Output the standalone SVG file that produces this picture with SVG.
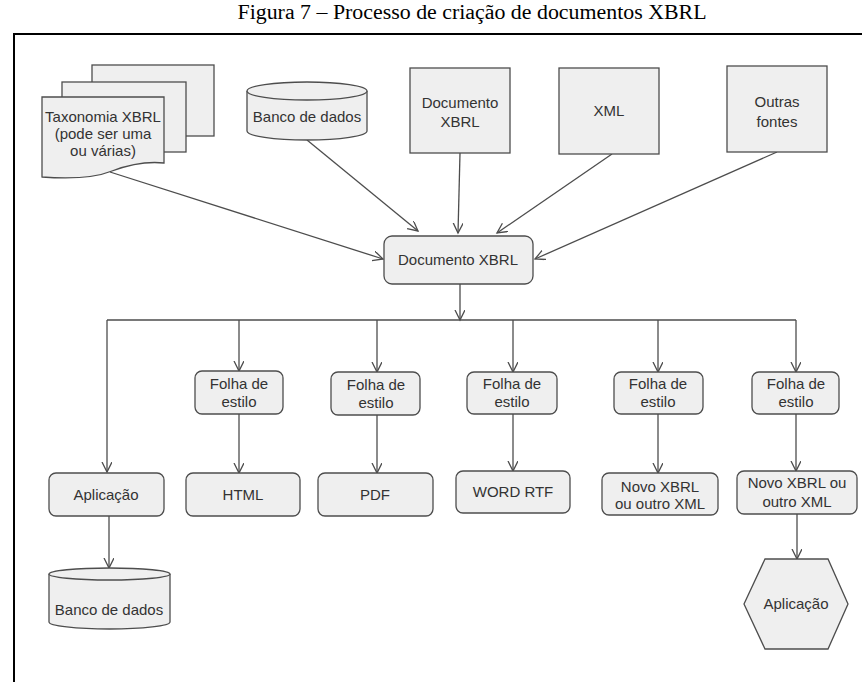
<svg xmlns="http://www.w3.org/2000/svg" width="862" height="682" viewBox="0 0 862 682">
<defs>
<style>
.shape{fill:#efefef;stroke:#4d4d4d;stroke-width:1.3}
.t{font-family:"Liberation Sans",Arial,sans-serif;font-size:15px;fill:#333;text-anchor:middle}
.c{fill:none;stroke:#4d4d4d;stroke-width:1.3}
.a{marker-end:url(#arr)}
</style>
<marker id="arr" markerUnits="userSpaceOnUse" markerWidth="12" markerHeight="12" refX="10" refY="5" orient="auto">
<path d="M0,0 L10,5 L0,10" fill="none" stroke="#4d4d4d" stroke-width="1.3"/>
</marker>
</defs>
<rect width="862" height="682" fill="#fff"/>
<text x="472" y="19" font-family="'Liberation Serif','Times New Roman',serif" font-size="20" fill="#000" text-anchor="middle" textLength="469" lengthAdjust="spacingAndGlyphs">Figura 7 – Processo de criação de documentos XBRL</text>
<path d="M14,682 V34 H862" fill="none" stroke="#000" stroke-width="2"/>

<g id="connectors">
<line class="c a" x1="110" y1="172" x2="383" y2="259"/>
<line class="c a" x1="307" y1="140" x2="418" y2="231"/>
<line class="c a" x1="460" y1="153" x2="458" y2="233"/>
<line class="c a" x1="612" y1="154" x2="497" y2="233"/>
<line class="c a" x1="777" y1="152" x2="535" y2="259"/>
<line class="c a" x1="460" y1="284" x2="460" y2="320"/>
<line class="c" x1="107" y1="320" x2="796" y2="320"/>
<line class="c a" x1="107" y1="320" x2="107" y2="472"/>
<line class="c a" x1="239" y1="320" x2="239" y2="371"/>
<line class="c a" x1="377" y1="320" x2="377" y2="372"/>
<line class="c a" x1="513" y1="320" x2="513" y2="372"/>
<line class="c a" x1="658" y1="320" x2="658" y2="372"/>
<line class="c a" x1="796" y1="320" x2="796" y2="372"/>
<line class="c a" x1="239" y1="414" x2="239" y2="473"/>
<line class="c a" x1="377" y1="415" x2="377" y2="473"/>
<line class="c a" x1="513" y1="414" x2="513" y2="471"/>
<line class="c a" x1="658" y1="414" x2="658" y2="473"/>
<line class="c a" x1="796" y1="414" x2="796" y2="471"/>
<line class="c a" x1="109" y1="516" x2="109" y2="568"/>
<line class="c a" x1="797" y1="514" x2="797" y2="559"/>
</g>

<g id="taxonomia">
<rect class="shape" x="92" y="65" width="122" height="71"/>
<rect class="shape" x="62" y="82" width="124" height="70"/>
<path class="shape" d="M42,97 H164 V163 C145,161 128,165 112,171 C92,179 68,179 42,177 Z"/>
<text class="t" x="103" y="122">Taxonomia XBRL</text>
<text class="t" x="103" y="139">(pode ser uma</text>
<text class="t" x="103" y="156">ou várias)</text>
</g>

<g id="banco1">
<path class="shape" d="M247,91 V131 A60,9 0 0 0 367,131 V91"/>
<ellipse class="shape" cx="307" cy="91" rx="60" ry="9"/>
<text class="t" x="307" y="122">Banco de dados</text>
</g>

<g id="docxbrl-top">
<rect class="shape" x="410" y="68" width="100" height="85"/>
<text class="t" x="460" y="108">Documento</text>
<text class="t" x="460" y="127">XBRL</text>
</g>

<g id="xml">
<rect class="shape" x="559" y="68" width="100" height="86"/>
<text class="t" x="609" y="116">XML</text>
</g>

<g id="outras">
<rect class="shape" x="727" y="66" width="100" height="86"/>
<text class="t" x="777" y="107">Outras</text>
<text class="t" x="777" y="127">fontes</text>
</g>

<g id="docxbrl-main">
<rect class="shape" x="384" y="236" width="149" height="48" rx="8"/>
<text class="t" x="458" y="265">Documento XBRL</text>
</g>

<g id="folha1">
<rect class="shape" x="195" y="371" width="88" height="43" rx="7"/>
<text class="t" x="239" y="389">Folha de</text>
<text class="t" x="239" y="407">estilo</text>
</g>
<g id="folha2">
<rect class="shape" x="331" y="372" width="89" height="43" rx="7"/>
<text class="t" x="376" y="390">Folha de</text>
<text class="t" x="376" y="408">estilo</text>
</g>
<g id="folha3">
<rect class="shape" x="467" y="372" width="90" height="42" rx="7"/>
<text class="t" x="512" y="389">Folha de</text>
<text class="t" x="512" y="407">estilo</text>
</g>
<g id="folha4">
<rect class="shape" x="614" y="372" width="89" height="42" rx="7"/>
<text class="t" x="658" y="389">Folha de</text>
<text class="t" x="658" y="407">estilo</text>
</g>
<g id="folha5">
<rect class="shape" x="752" y="372" width="87" height="42" rx="7"/>
<text class="t" x="796" y="389">Folha de</text>
<text class="t" x="796" y="407">estilo</text>
</g>

<g id="aplicacao1">
<rect class="shape" x="49" y="473" width="115" height="43" rx="7"/>
<text class="t" x="106" y="500">Aplicação</text>
</g>
<g id="html">
<rect class="shape" x="186" y="473" width="114" height="43" rx="7"/>
<text class="t" x="243" y="500">HTML</text>
</g>
<g id="pdf">
<rect class="shape" x="318" y="473" width="115" height="43" rx="7"/>
<text class="t" x="375" y="500">PDF</text>
</g>
<g id="word">
<rect class="shape" x="456" y="471" width="114" height="42" rx="7"/>
<text class="t" x="513" y="497">WORD RTF</text>
</g>
<g id="novo1">
<rect class="shape" x="602" y="473" width="116" height="42" rx="7"/>
<text class="t" x="660" y="492">Novo XBRL</text>
<text class="t" x="660" y="509">ou outro XML</text>
</g>
<g id="novo2">
<rect class="shape" x="737" y="471" width="120" height="43" rx="7"/>
<text class="t" x="797" y="488">Novo XBRL ou</text>
<text class="t" x="797" y="507">outro XML</text>
</g>

<g id="banco2">
<path class="shape" d="M49,574 V622 A60.5,7 0 0 0 170,622 V574"/>
<ellipse class="shape" cx="109.5" cy="574" rx="60.5" ry="6"/>
<text class="t" x="109" y="615">Banco de dados</text>
</g>

<g id="aplicacao2">
<polygon class="shape" points="765,559 828,559 848,604 828,649 765,649 744,604"/>
<text class="t" x="796" y="609">Aplicação</text>
</g>
</svg>
